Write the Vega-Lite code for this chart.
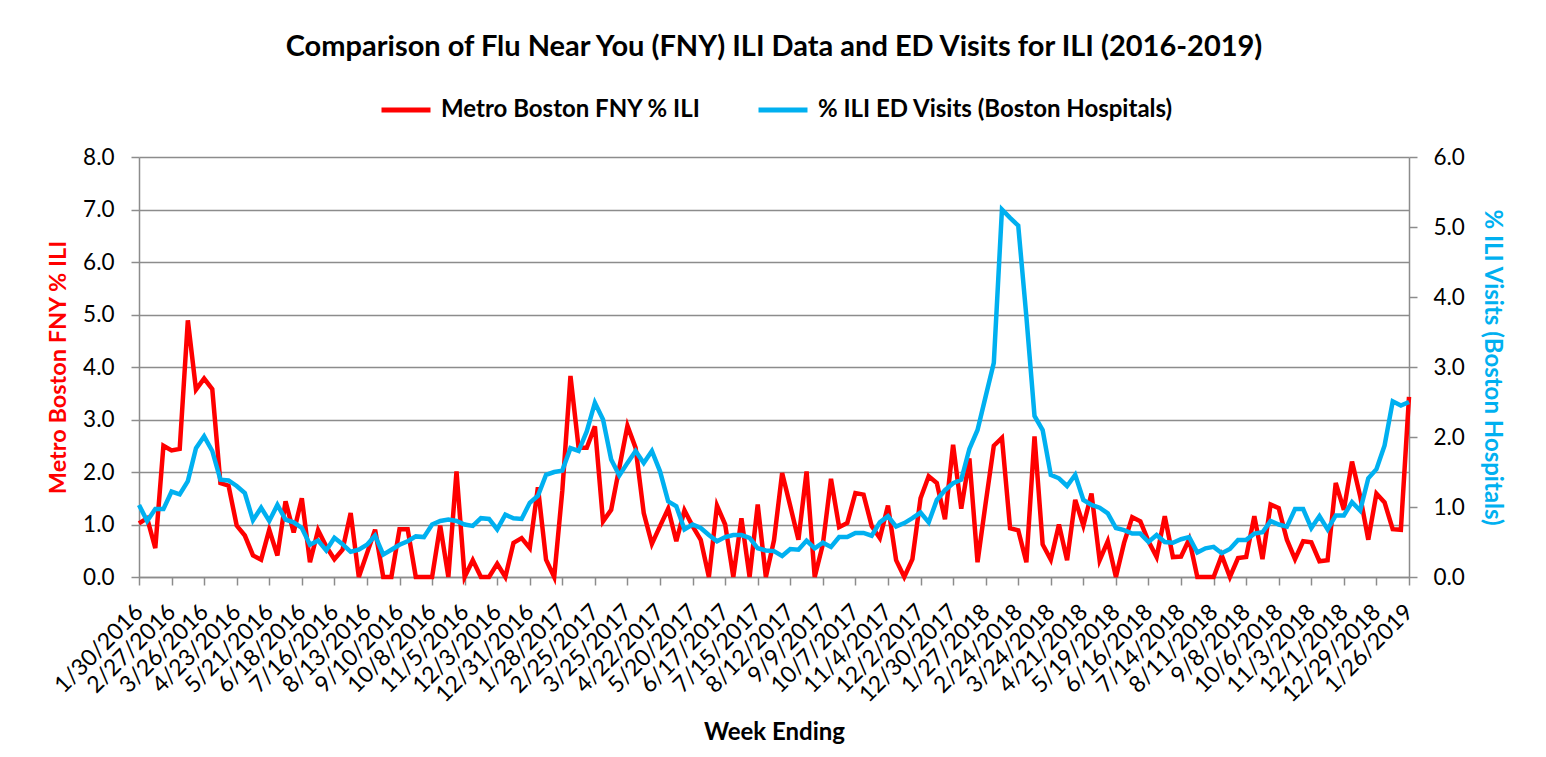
{
  "$schema": "https://vega.github.io/schema/vega-lite/v6.json",
  "width": 1270,
  "height": 420,
  "autosize": {"type": "none"},
  "padding": {"left": 139, "top": 157, "right": 137, "bottom": 180},
  "background": "white",
  "config": {
    "font": "Lato",
    "view": {"stroke": null},
    "axis": {"labelFont": "Lato", "titleFont": "Lato", "labelColor": "#000000", "domainColor": "#8c8c8c", "tickColor": "#8c8c8c", "domainWidth": 1.5, "tickWidth": 1.5}
  },
  "title": {"text": "Comparison of Flu Near You (FNY) ILI Data and ED Visits for ILI (2016-2019)", "font": "Lato", "fontSize": 29, "fontWeight": "bold", "color": "#000000", "anchor": "middle", "frame": "group", "offset": 21},
  "data": {"values": [
    {"week": "1/30/2016", "fny": 1.02, "ed": 1.03},
    {"week": "2/6/2016", "fny": 1.12, "ed": 0.80},
    {"week": "2/13/2016", "fny": 0.55, "ed": 0.97},
    {"week": "2/20/2016", "fny": 2.50, "ed": 0.97},
    {"week": "2/27/2016", "fny": 2.41, "ed": 1.22},
    {"week": "3/5/2016", "fny": 2.44, "ed": 1.18},
    {"week": "3/12/2016", "fny": 4.89, "ed": 1.37},
    {"week": "3/19/2016", "fny": 3.57, "ed": 1.84},
    {"week": "3/26/2016", "fny": 3.78, "ed": 2.01},
    {"week": "4/2/2016", "fny": 3.58, "ed": 1.80},
    {"week": "4/9/2016", "fny": 1.79, "ed": 1.39},
    {"week": "4/16/2016", "fny": 1.74, "ed": 1.38},
    {"week": "4/23/2016", "fny": 0.98, "ed": 1.30},
    {"week": "4/30/2016", "fny": 0.79, "ed": 1.20},
    {"week": "5/7/2016", "fny": 0.41, "ed": 0.81},
    {"week": "5/14/2016", "fny": 0.33, "ed": 0.99},
    {"week": "5/21/2016", "fny": 0.90, "ed": 0.80},
    {"week": "5/28/2016", "fny": 0.41, "ed": 1.03},
    {"week": "6/4/2016", "fny": 1.44, "ed": 0.82},
    {"week": "6/11/2016", "fny": 0.85, "ed": 0.78},
    {"week": "6/18/2016", "fny": 1.50, "ed": 0.70},
    {"week": "6/25/2016", "fny": 0.28, "ed": 0.46},
    {"week": "7/2/2016", "fny": 0.89, "ed": 0.52},
    {"week": "7/9/2016", "fny": 0.58, "ed": 0.38},
    {"week": "7/16/2016", "fny": 0.34, "ed": 0.56},
    {"week": "7/23/2016", "fny": 0.52, "ed": 0.47},
    {"week": "7/30/2016", "fny": 1.22, "ed": 0.36},
    {"week": "8/6/2016", "fny": 0, "ed": 0.39},
    {"week": "8/13/2016", "fny": 0.45, "ed": 0.46},
    {"week": "8/20/2016", "fny": 0.90, "ed": 0.59},
    {"week": "8/27/2016", "fny": 0, "ed": 0.32},
    {"week": "9/3/2016", "fny": 0, "ed": 0.39},
    {"week": "9/10/2016", "fny": 0.91, "ed": 0.46},
    {"week": "9/17/2016", "fny": 0.91, "ed": 0.51},
    {"week": "9/24/2016", "fny": 0, "ed": 0.58},
    {"week": "10/1/2016", "fny": 0, "ed": 0.57},
    {"week": "10/8/2016", "fny": 0, "ed": 0.75},
    {"week": "10/15/2016", "fny": 0.98, "ed": 0.80},
    {"week": "10/22/2016", "fny": 0, "ed": 0.82},
    {"week": "10/29/2016", "fny": 2.01, "ed": 0.80},
    {"week": "11/5/2016", "fny": 0, "ed": 0.75},
    {"week": "11/12/2016", "fny": 0.32, "ed": 0.73},
    {"week": "11/19/2016", "fny": 0, "ed": 0.84},
    {"week": "11/26/2016", "fny": 0, "ed": 0.83},
    {"week": "12/3/2016", "fny": 0.25, "ed": 0.68},
    {"week": "12/10/2016", "fny": 0, "ed": 0.89},
    {"week": "12/17/2016", "fny": 0.65, "ed": 0.84},
    {"week": "12/24/2016", "fny": 0.74, "ed": 0.83},
    {"week": "12/31/2016", "fny": 0.55, "ed": 1.06},
    {"week": "1/7/2017", "fny": 1.71, "ed": 1.16},
    {"week": "1/14/2017", "fny": 0.33, "ed": 1.46},
    {"week": "1/21/2017", "fny": 0, "ed": 1.50},
    {"week": "1/28/2017", "fny": 1.65, "ed": 1.52},
    {"week": "2/4/2017", "fny": 3.83, "ed": 1.84},
    {"week": "2/11/2017", "fny": 2.46, "ed": 1.80},
    {"week": "2/18/2017", "fny": 2.46, "ed": 2.08},
    {"week": "2/25/2017", "fny": 2.87, "ed": 2.49},
    {"week": "3/4/2017", "fny": 1.06, "ed": 2.25},
    {"week": "3/11/2017", "fny": 1.28, "ed": 1.68},
    {"week": "3/18/2017", "fny": 2.08, "ed": 1.45},
    {"week": "3/25/2017", "fny": 2.88, "ed": 1.63},
    {"week": "4/1/2017", "fny": 2.46, "ed": 1.80},
    {"week": "4/8/2017", "fny": 1.22, "ed": 1.63},
    {"week": "4/15/2017", "fny": 0.63, "ed": 1.80},
    {"week": "4/22/2017", "fny": 0.97, "ed": 1.51},
    {"week": "4/29/2017", "fny": 1.30, "ed": 1.08},
    {"week": "5/6/2017", "fny": 0.68, "ed": 1.01},
    {"week": "5/13/2017", "fny": 1.27, "ed": 0.68},
    {"week": "5/20/2017", "fny": 0.97, "ed": 0.75},
    {"week": "5/27/2017", "fny": 0.71, "ed": 0.70},
    {"week": "6/3/2017", "fny": 0, "ed": 0.60},
    {"week": "6/10/2017", "fny": 1.36, "ed": 0.51},
    {"week": "6/17/2017", "fny": 1.00, "ed": 0.57},
    {"week": "6/24/2017", "fny": 0, "ed": 0.60},
    {"week": "7/1/2017", "fny": 1.12, "ed": 0.60},
    {"week": "7/8/2017", "fny": 0, "ed": 0.56},
    {"week": "7/15/2017", "fny": 1.38, "ed": 0.41},
    {"week": "7/22/2017", "fny": 0, "ed": 0.38},
    {"week": "7/29/2017", "fny": 0.70, "ed": 0.37},
    {"week": "8/5/2017", "fny": 1.98, "ed": 0.30},
    {"week": "8/12/2017", "fny": 1.35, "ed": 0.40},
    {"week": "8/19/2017", "fny": 0.71, "ed": 0.39},
    {"week": "8/26/2017", "fny": 2.01, "ed": 0.52},
    {"week": "9/2/2017", "fny": 0, "ed": 0.41},
    {"week": "9/9/2017", "fny": 0.62, "ed": 0.49},
    {"week": "9/16/2017", "fny": 1.87, "ed": 0.43},
    {"week": "9/23/2017", "fny": 0.95, "ed": 0.57},
    {"week": "9/30/2017", "fny": 1.03, "ed": 0.57},
    {"week": "10/7/2017", "fny": 1.60, "ed": 0.63},
    {"week": "10/14/2017", "fny": 1.57, "ed": 0.63},
    {"week": "10/21/2017", "fny": 0.97, "ed": 0.59},
    {"week": "10/28/2017", "fny": 0.74, "ed": 0.78},
    {"week": "11/4/2017", "fny": 1.36, "ed": 0.87},
    {"week": "11/11/2017", "fny": 0.32, "ed": 0.72},
    {"week": "11/18/2017", "fny": 0, "ed": 0.77},
    {"week": "11/25/2017", "fny": 0.34, "ed": 0.84},
    {"week": "12/2/2017", "fny": 1.50, "ed": 0.92},
    {"week": "12/9/2017", "fny": 1.92, "ed": 0.78},
    {"week": "12/16/2017", "fny": 1.79, "ed": 1.10},
    {"week": "12/23/2017", "fny": 1.10, "ed": 1.24},
    {"week": "12/30/2017", "fny": 2.52, "ed": 1.34},
    {"week": "1/6/2018", "fny": 1.30, "ed": 1.39},
    {"week": "1/13/2018", "fny": 2.26, "ed": 1.83},
    {"week": "1/20/2018", "fny": 0.28, "ed": 2.10},
    {"week": "1/27/2018", "fny": 1.41, "ed": 2.58},
    {"week": "2/3/2018", "fny": 2.50, "ed": 3.06},
    {"week": "2/10/2018", "fny": 2.65, "ed": 5.25},
    {"week": "2/17/2018", "fny": 0.93, "ed": 5.13},
    {"week": "2/24/2018", "fny": 0.89, "ed": 5.02},
    {"week": "3/3/2018", "fny": 0.28, "ed": 3.72},
    {"week": "3/10/2018", "fny": 2.68, "ed": 2.30},
    {"week": "3/17/2018", "fny": 0.62, "ed": 2.10},
    {"week": "3/24/2018", "fny": 0.33, "ed": 1.46},
    {"week": "3/31/2018", "fny": 1.00, "ed": 1.41},
    {"week": "4/7/2018", "fny": 0.32, "ed": 1.30},
    {"week": "4/14/2018", "fny": 1.47, "ed": 1.46},
    {"week": "4/21/2018", "fny": 0.98, "ed": 1.10},
    {"week": "4/28/2018", "fny": 1.59, "ed": 1.03},
    {"week": "5/5/2018", "fny": 0.32, "ed": 0.99},
    {"week": "5/12/2018", "fny": 0.68, "ed": 0.91},
    {"week": "5/19/2018", "fny": 0, "ed": 0.70},
    {"week": "5/26/2018", "fny": 0.65, "ed": 0.67},
    {"week": "6/2/2018", "fny": 1.14, "ed": 0.62},
    {"week": "6/9/2018", "fny": 1.06, "ed": 0.62},
    {"week": "6/16/2018", "fny": 0.68, "ed": 0.50},
    {"week": "6/23/2018", "fny": 0.38, "ed": 0.60},
    {"week": "6/30/2018", "fny": 1.16, "ed": 0.50},
    {"week": "7/7/2018", "fny": 0.38, "ed": 0.49},
    {"week": "7/14/2018", "fny": 0.39, "ed": 0.54},
    {"week": "7/21/2018", "fny": 0.72, "ed": 0.57},
    {"week": "7/28/2018", "fny": 0, "ed": 0.35},
    {"week": "8/4/2018", "fny": 0, "ed": 0.41},
    {"week": "8/11/2018", "fny": 0, "ed": 0.43},
    {"week": "8/18/2018", "fny": 0.41, "ed": 0.34},
    {"week": "8/25/2018", "fny": 0, "ed": 0.40},
    {"week": "9/1/2018", "fny": 0.36, "ed": 0.53},
    {"week": "9/8/2018", "fny": 0.38, "ed": 0.53},
    {"week": "9/15/2018", "fny": 1.16, "ed": 0.62},
    {"week": "9/22/2018", "fny": 0.34, "ed": 0.64},
    {"week": "9/29/2018", "fny": 1.38, "ed": 0.80},
    {"week": "10/6/2018", "fny": 1.31, "ed": 0.75},
    {"week": "10/13/2018", "fny": 0.71, "ed": 0.72},
    {"week": "10/20/2018", "fny": 0.34, "ed": 0.97},
    {"week": "10/27/2018", "fny": 0.68, "ed": 0.97},
    {"week": "11/3/2018", "fny": 0.66, "ed": 0.70},
    {"week": "11/10/2018", "fny": 0.30, "ed": 0.87},
    {"week": "11/17/2018", "fny": 0.32, "ed": 0.68},
    {"week": "11/24/2018", "fny": 1.79, "ed": 0.88},
    {"week": "12/1/2018", "fny": 1.28, "ed": 0.88},
    {"week": "12/8/2018", "fny": 2.20, "ed": 1.07},
    {"week": "12/15/2018", "fny": 1.54, "ed": 0.95},
    {"week": "12/22/2018", "fny": 0.71, "ed": 1.41},
    {"week": "12/29/2018", "fny": 1.59, "ed": 1.54},
    {"week": "1/5/2019", "fny": 1.42, "ed": 1.88},
    {"week": "1/12/2019", "fny": 0.91, "ed": 2.51},
    {"week": "1/19/2019", "fny": 0.90, "ed": 2.45},
    {"week": "1/26/2019", "fny": 3.43, "ed": 2.50}
  ]},
  "layer": [
    {
      "mark": {"type": "line", "strokeWidth": 4.5, "strokeJoin": "miter"},
      "encoding": {
        "x": {
          "field": "week", "type": "ordinal", "sort": null,
          "scale": {"type": "point", "padding": 0},
          "axis": {
            "title": "Week Ending", "titleFontSize": 24, "titleFontWeight": "bold", "titleColor": "#000000", "titlePadding": 14,
            "values": ["1/30/2016","2/27/2016","3/26/2016","4/23/2016","5/21/2016","6/18/2016","7/16/2016","8/13/2016","9/10/2016","10/8/2016","11/5/2016","12/3/2016","12/31/2016","1/28/2017","2/25/2017","3/25/2017","4/22/2017","5/20/2017","6/17/2017","7/15/2017","8/12/2017","9/9/2017","10/7/2017","11/4/2017","12/2/2017","12/30/2017","1/27/2018","2/24/2018","3/24/2018","4/21/2018","5/19/2018","6/16/2018","7/14/2018","8/11/2018","9/8/2018","10/6/2018","11/3/2018","12/1/2018","12/29/2018","1/26/2019"],
            "labelAngle": -45, "labelAlign": "right", "labelBaseline": "middle", "labelFontSize": 23, "labelPadding": 23,
            "tickSize": 8, "grid": false, "labelOverlap": false
          }
        },
        "y": {
          "field": "fny", "type": "quantitative",
          "scale": {"domain": [0, 8], "nice": false},
          "axis": {
            "orient": "left", "title": "Metro Boston FNY % ILI", "titleColor": "#FF0000", "titleFontSize": 23.5, "titleFontWeight": "bold", "titlePadding": 12,
            "values": [0, 1, 2, 3, 4, 5, 6, 7, 8], "format": ".1f", "labelFontSize": 22.5, "labelPadding": 17, "tickSize": 8,
            "grid": true, "gridColor": "#8c8c8c", "gridWidth": 1.5
          }
        },
        "color": {
          "datum": "Metro Boston FNY % ILI",
          "scale": {"domain": ["Metro Boston FNY % ILI", "% ILI ED Visits (Boston Hospitals)"], "range": ["#FF0000", "#00B0F0"]},
          "legend": {
            "title": null, "orient": "none", "legendX": 240, "legendY": -74, "direction": "horizontal",
            "symbolType": "stroke", "symbolSize": 2400, "symbolStrokeWidth": 5,
            "labelFont": "Lato", "labelFontSize": 24, "labelFontWeight": "bold", "labelColor": "#000000", "labelOffset": 8,
            "columnPadding": 47, "labelLimit": 600
          }
        }
      }
    },
    {
      "mark": {"type": "line", "strokeWidth": 4.5, "strokeJoin": "miter"},
      "encoding": {
        "x": {"field": "week", "type": "ordinal", "sort": null, "scale": {"type": "point", "padding": 0}},
        "y": {
          "field": "ed", "type": "quantitative",
          "scale": {"domain": [0, 6], "nice": false},
          "axis": {
            "orient": "right", "title": "% ILI Visits (Boston Hospitals)", "titleColor": "#00B0F0", "titleFontSize": 24, "titleFontWeight": "bold", "titlePadding": 15,
            "values": [0, 1, 2, 3, 4, 5, 6], "format": ".1f", "labelFontSize": 22.5, "labelPadding": 16, "tickSize": 8, "grid": false
          }
        },
        "color": {"datum": "% ILI ED Visits (Boston Hospitals)"}
      }
    }
  ],
  "resolve": {"scale": {"y": "independent"}}
}
